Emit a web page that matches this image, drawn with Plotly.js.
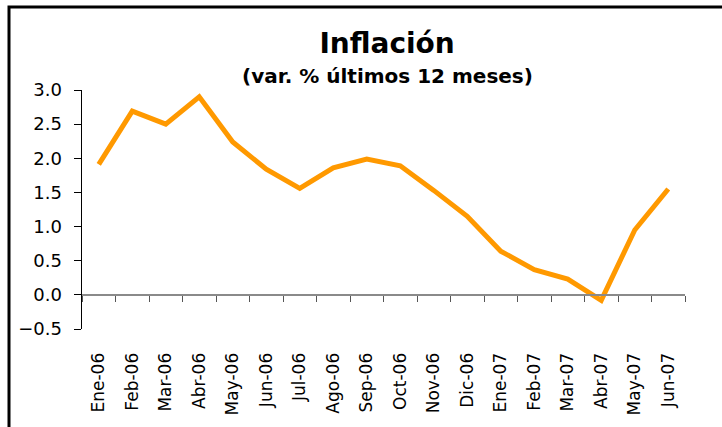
<!DOCTYPE html>
<html>
<head>
<meta charset="utf-8">
<script src="https://cdn.plot.ly/plotly-3.0.1.min.js"></script>
<style>html,body{margin:0;padding:0;background:#fff;}#chart{width:722px;height:427px;}</style>
</head>
<body>
<div id="chart"></div>
<script>
const categories = ["Ene-06","Feb-06","Mar-06","Abr-06","May-06","Jun-06","Jul-06","Ago-06","Sep-06","Oct-06","Nov-06","Dic-06","Ene-07","Feb-07","Mar-07","Abr-07","May-07","Jun-07"];
const inflation = [1.91, 2.69, 2.50, 2.90, 2.24, 1.84, 1.56, 1.86, 1.99, 1.89, 1.53, 1.15, 0.64, 0.37, 0.23, -0.08, 0.95, 1.55];
const yTicks = [-0.5, 0, 0.5, 1, 1.5, 2, 2.5, 3];
const titleText = "Inflación";
const subtitleText = "(var. % últimos 12 meses)";

const yMin = -0.5, yMax = 3.0;
const zeroPos = (0 - yMin) / (yMax - yMin);
const font = "DejaVu Sans, Verdana, sans-serif";

const traces = [
  {x: categories, y: inflation, type: "scatter", mode: "lines",
   line: {color: "#FF9900", width: 5}, xaxis: "x", yaxis: "y", hoverinfo: "skip"},
  {x: categories, y: categories.map(() => null), type: "scatter", mode: "lines",
   xaxis: "x2", yaxis: "y", showlegend: false, hoverinfo: "skip"}
];

const layout = {
  width: 722, height: 427,
  margin: {l: 82, r: 37, t: 90, b: 98},
  paper_bgcolor: "#ffffff", plot_bgcolor: "#ffffff",
  showlegend: false,
  font: {family: font, color: "#000", size: 17},
  title: {text: "<b>" + titleText + "</b>", xref: "paper", x: 0.506, xanchor: "center",
          yref: "container", y: 1 - 43 / 427, yanchor: "middle",
          font: {family: font, size: 28, color: "#000"}},
  annotations: [{text: "<b>" + subtitleText + "</b>", xref: "paper", yref: "paper",
                 x: 0.506, y: (329 - 76) / 239, xanchor: "center", yanchor: "middle",
                 showarrow: false, font: {family: font, size: 20, color: "#000"}}],
  xaxis: {type: "category", categoryorder: "array", categoryarray: categories,
          range: [-0.5, categories.length - 0.5],
          showline: false, showgrid: false, zeroline: false,
          ticks: "outside", ticklen: 0, tickangle: -90, ticklabelstandoff: 16,
          tickfont: {family: font, size: 17, color: "#000"}},
  xaxis2: {type: "category", categoryorder: "array", categoryarray: categories,
           range: [-0.5, categories.length - 0.5],
           overlaying: "x", anchor: "free", position: zeroPos, side: "bottom",
           showline: true, linecolor: "#8a8a8a", linewidth: 2,
           ticks: "outside", tickson: "boundaries", ticklen: 6, tickcolor: "#555", tickwidth: 1,
           showticklabels: false, showgrid: false, zeroline: false},
  yaxis: {range: [yMin, yMax], tickvals: yTicks, tickformat: ".1f",
          showline: true, linecolor: "#000", linewidth: 1.5,
          ticks: "outside", ticklen: 7, tickcolor: "#000", tickwidth: 1,
          ticklabelstandoff: 8,
          showgrid: false, zeroline: false,
          tickfont: {family: font, size: 18, color: "#000"}},
  shapes: [{type: "rect", xref: "paper", yref: "paper",
            x0: (9 - 82) / 603, x1: 2, y0: -2, y1: (329 - 7) / 239,
            line: {color: "#000", width: 3}, fillcolor: "rgba(0,0,0,0)"}]
};

Plotly.newPlot("chart", traces, layout, {staticPlot: true, displayModeBar: false});
</script>
</body>
</html>
